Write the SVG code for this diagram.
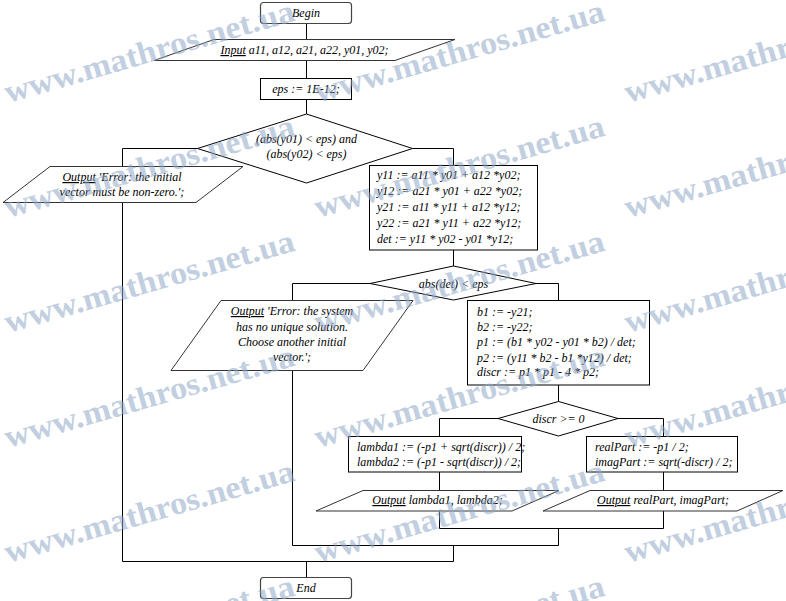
<svg xmlns="http://www.w3.org/2000/svg" width="786" height="601" viewBox="0 0 786 601">
<style>
.t{font-style:italic;font-size:12px;fill:#000}
.c{text-anchor:middle}
.u{text-decoration:underline}
.box{fill:#fff;stroke:#000;stroke-width:1}
.term{fill:#fff;stroke:#444;stroke-width:1.2}
.io{fill:#fff;stroke:#333;stroke-width:1}
.dec{fill:#fff;stroke:#000;stroke-width:1}
.ln{fill:none;stroke:#000;stroke-width:1}
.wm{font-weight:bold;font-size:32px;fill:#8fa8c8;opacity:0.55}
</style>
<rect width="786" height="601" fill="#fff"/>
<g id="connectors">
<path class="ln" d="M306.5 23V39.5M306.5 60.5V78.5M306.5 99V114"/>
<path class="ln" d="M197.5 148.5H122.5V166"/>
<path class="ln" d="M412.5 148.5H453.5V165.5"/>
<path class="ln" d="M122.5 202V561.5"/>
<path class="ln" d="M453.5 250V266"/>
<path class="ln" d="M370 283.5H292.5V300.5"/>
<path class="ln" d="M536 283.5H558.5V300.5"/>
<path class="ln" d="M292.5 370V545.5"/>
<path class="ln" d="M558.5 385V401.5"/>
<path class="ln" d="M498 418.5H439.5V436"/>
<path class="ln" d="M618 418.5H663.5V436"/>
<path class="ln" d="M439.5 472V490M663.5 472V490"/>
<path class="ln" d="M439.5 511V528.5H663.5V511"/>
<path class="ln" d="M558.5 528.5V545.5"/>
<path class="ln" d="M292.5 545.5H558.5"/>
<path class="ln" d="M453.5 545.5V561.5"/>
<path class="ln" d="M122.5 561.5H453.5"/>
<path class="ln" d="M306.5 561.5V577"/>
</g>
<g font-family="Liberation Serif, Times New Roman, serif">
<g id="begin">
<rect class="term" x="260.5" y="2.5" width="91" height="21" rx="3"/>
<text class="t c" x="306" y="17">Begin</text>
</g>
<g id="input">
<polygon class="io" points="214,39.5 455,39.5 395,60.5 154,60.5"/>
<text class="t c" x="304.5" y="54"><tspan class="u">Input</tspan> a11, a12, a21, a22, y01, y02;</text>
</g>
<g id="eps">
<rect class="box" x="260.5" y="78.5" width="91" height="21"/>
<text class="t c" x="306" y="93">eps := 1E-12;</text>
</g>
<g id="cond1">
<polygon class="dec" points="306.5,114 412.5,148.5 306.5,183 197.5,148.5"/>
<text class="t c" x="306.5" y="143">(abs(y01) &lt; eps) and</text>
<text class="t c" x="306.5" y="158">(abs(y02) &lt; eps)</text>
</g>
<g id="err1">
<polygon class="io" points="50,166.5 243,166.5 196,202.5 3,202.5"/>
<text class="t c" x="122" y="181"><tspan class="u">Output</tspan> 'Error: the initial</text>
<text class="t c" x="122" y="196">vector must be non-zero.';</text>
</g>
<g id="calc1">
<rect class="box" x="369.5" y="165.5" width="168" height="84.5"/>
<text class="t" x="377" y="179">y11 := a11 * y01 + a12 *y02;</text>
<text class="t" x="377" y="195">y12 := a21 * y01 + a22 *y02;</text>
<text class="t" x="377" y="211">y21 := a11 * y11 + a12 *y12;</text>
<text class="t" x="377" y="227">y22 := a21 * y11 + a22 *y12;</text>
<text class="t" x="377" y="243">det := y11 * y02 - y01 *y12;</text>
</g>
<g id="cond2">
<polygon class="dec" points="453.5,266 536,283.5 453.5,300 370,283.5"/>
<text class="t c" x="453.5" y="287.5">abs(det) &lt; eps</text>
</g>
<g id="err2">
<polygon class="io" points="221,300.5 413,300.5 363,370.5 171,370.5"/>
<text class="t c" x="292" y="315"><tspan class="u">Output</tspan> 'Error: the system</text>
<text class="t c" x="292" y="331">has no unique solution.</text>
<text class="t c" x="292" y="346">Choose another initial</text>
<text class="t c" x="292" y="361">vector.';</text>
</g>
<g id="calc2">
<rect class="box" x="467.5" y="300.5" width="182" height="84.5"/>
<text class="t" x="477" y="316">b1 := -y21;</text>
<text class="t" x="477" y="331">b2 := -y22;</text>
<text class="t" x="477" y="346">p1 := (b1 * y02 - y01 * b2) / det;</text>
<text class="t" x="477" y="362">p2 := (y11 * b2 - b1 *y12) / det;</text>
<text class="t" x="477" y="376">discr := p1 * p1 - 4 * p2;</text>
</g>
<g id="cond3">
<polygon class="dec" points="558.5,401.5 618,418.5 558.5,436 498,418.5"/>
<text class="t c" x="558.5" y="422.5">discr &gt;= 0</text>
</g>
<g id="lambda">
<rect class="box" x="348.5" y="436.5" width="173" height="35.5"/>
<text class="t" x="357" y="451">lambda1 := (-p1 + sqrt(discr)) / 2;</text>
<text class="t" x="357" y="466">lambda2 := (-p1 - sqrt(discr)) / 2;</text>
</g>
<g id="complex">
<rect class="box" x="586.5" y="436.5" width="151" height="35.5"/>
<text class="t" x="595" y="451">realPart := -p1 / 2;</text>
<text class="t" x="595" y="466">imagPart := sqrt(-discr) / 2;</text>
</g>
<g id="outLambda">
<polygon class="io" points="363,490.5 559,490.5 512,511 316,511"/>
<text class="t c" x="437.5" y="504"><tspan class="u">Output</tspan> lambda1, lambda2;</text>
</g>
<g id="outComplex">
<polygon class="io" points="590,490.5 783,490.5 737,511 543,511"/>
<text class="t c" x="663" y="504"><tspan class="u">Output</tspan> realPart, imagPart;</text>
</g>
<g id="end">
<rect class="term" x="260.5" y="577.5" width="91" height="21" rx="3"/>
<text class="t c" x="306" y="592">End</text>
</g>
<g id="watermark">
<text class="wm" x="8" y="103" transform="rotate(-16 8 103)" textLength="300" lengthAdjust="spacingAndGlyphs">www.mathros.net.ua</text>
<text class="wm" x="318" y="103" transform="rotate(-16 318 103)" textLength="300" lengthAdjust="spacingAndGlyphs">www.mathros.net.ua</text>
<text class="wm" x="628" y="103" transform="rotate(-16 628 103)" textLength="300" lengthAdjust="spacingAndGlyphs">www.mathros.net.ua</text>
<text class="wm" x="8" y="218" transform="rotate(-16 8 218)" textLength="300" lengthAdjust="spacingAndGlyphs">www.mathros.net.ua</text>
<text class="wm" x="318" y="218" transform="rotate(-16 318 218)" textLength="300" lengthAdjust="spacingAndGlyphs">www.mathros.net.ua</text>
<text class="wm" x="628" y="218" transform="rotate(-16 628 218)" textLength="300" lengthAdjust="spacingAndGlyphs">www.mathros.net.ua</text>
<text class="wm" x="8" y="333" transform="rotate(-16 8 333)" textLength="300" lengthAdjust="spacingAndGlyphs">www.mathros.net.ua</text>
<text class="wm" x="318" y="333" transform="rotate(-16 318 333)" textLength="300" lengthAdjust="spacingAndGlyphs">www.mathros.net.ua</text>
<text class="wm" x="628" y="333" transform="rotate(-16 628 333)" textLength="300" lengthAdjust="spacingAndGlyphs">www.mathros.net.ua</text>
<text class="wm" x="8" y="448" transform="rotate(-16 8 448)" textLength="300" lengthAdjust="spacingAndGlyphs">www.mathros.net.ua</text>
<text class="wm" x="318" y="448" transform="rotate(-16 318 448)" textLength="300" lengthAdjust="spacingAndGlyphs">www.mathros.net.ua</text>
<text class="wm" x="628" y="448" transform="rotate(-16 628 448)" textLength="300" lengthAdjust="spacingAndGlyphs">www.mathros.net.ua</text>
<text class="wm" x="8" y="563" transform="rotate(-16 8 563)" textLength="300" lengthAdjust="spacingAndGlyphs">www.mathros.net.ua</text>
<text class="wm" x="318" y="563" transform="rotate(-16 318 563)" textLength="300" lengthAdjust="spacingAndGlyphs">www.mathros.net.ua</text>
<text class="wm" x="628" y="563" transform="rotate(-16 628 563)" textLength="300" lengthAdjust="spacingAndGlyphs">www.mathros.net.ua</text>
<text class="wm" x="8" y="678" transform="rotate(-16 8 678)" textLength="300" lengthAdjust="spacingAndGlyphs">www.mathros.net.ua</text>
<text class="wm" x="318" y="678" transform="rotate(-16 318 678)" textLength="300" lengthAdjust="spacingAndGlyphs">www.mathros.net.ua</text>
<text class="wm" x="628" y="678" transform="rotate(-16 628 678)" textLength="300" lengthAdjust="spacingAndGlyphs">www.mathros.net.ua</text>
</g>
</g>
</svg>
